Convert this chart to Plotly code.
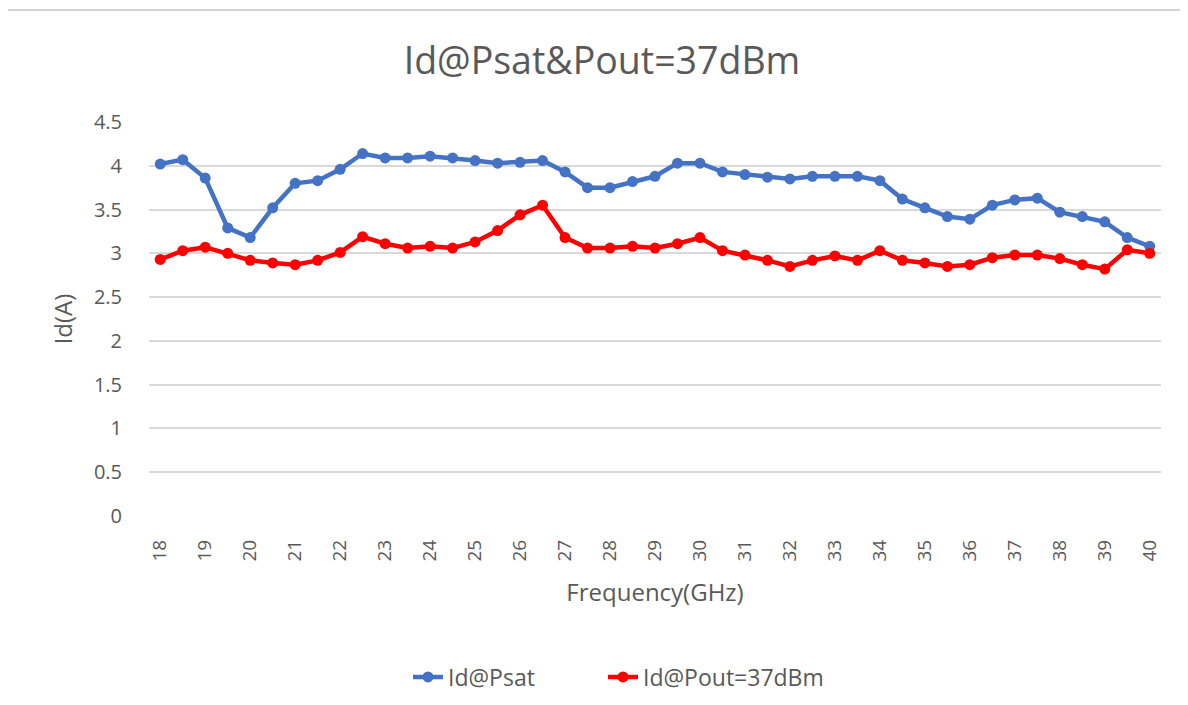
import plotly.graph_objects as go

freq = [18 + 0.5 * i for i in range(45)]
id_psat = [4.02, 4.07, 3.86, 3.29, 3.18, 3.52, 3.80, 3.83, 3.96, 4.14,
           4.09, 4.09, 4.11, 4.09, 4.06, 4.03, 4.04, 4.06, 3.93, 3.75,
           3.75, 3.82, 3.88, 4.03, 4.03, 3.93, 3.90, 3.87, 3.85, 3.88,
           3.88, 3.88, 3.83, 3.62, 3.52, 3.42, 3.39, 3.55, 3.61, 3.63,
           3.47, 3.42, 3.36, 3.18, 3.08]
id_pout = [2.93, 3.03, 3.07, 3.00, 2.92, 2.89, 2.87, 2.92, 3.01, 3.19,
           3.11, 3.06, 3.08, 3.06, 3.13, 3.26, 3.44, 3.55, 3.18, 3.06,
           3.06, 3.08, 3.06, 3.11, 3.18, 3.03, 2.98, 2.92, 2.85, 2.92,
           2.97, 2.92, 3.03, 2.92, 2.89, 2.85, 2.87, 2.95, 2.98, 2.98,
           2.94, 2.87, 2.82, 3.04, 3.00]
tick_vals = list(range(18, 41))
tick_text = [str(v) for v in tick_vals]
y_ticks = [0, 0.5, 1, 1.5, 2, 2.5, 3, 3.5, 4, 4.5]
y_text = ["0", "0.5", "1", "1.5", "2", "2.5", "3", "3.5", "4", "4.5"]

# page has an 8px body margin, so the figure is sized/positioned to compensate
OFF = 8
W, H = 1188 - OFF, 705 - OFF
L, T = 149 - OFF, 122 - OFF
R = W - L - 1012
B = H - T - 394
FONT = "Open Sans"
GREY = "#595959"

fig = go.Figure()
fig.add_trace(go.Scatter(x=freq, y=id_psat, name="Id@Psat", mode="lines+markers",
                         line=dict(color="#4472C4", width=4.5),
                         marker=dict(color="#4472C4", size=11), legend="legend"))
fig.add_trace(go.Scatter(x=freq, y=id_pout, name="Id@Pout=37dBm", mode="lines+markers",
                         line=dict(color="#FF0000", width=4.5),
                         marker=dict(color="#FF0000", size=11), legend="legend2"))

pw = W - L - R
ph = H - T - B
def px(x):
    return (x - OFF - L) / pw
def py(y):
    return (H - B - (y - OFF)) / ph

shapes = [
    dict(type="line", xref="paper", yref="paper", x0=px(0), x1=px(1200), y0=py(10), y1=py(10),
         line=dict(color="#d4d4d4", width=2)),
]

leg_common = dict(orientation="h", xanchor="left", xref="container",
                  y=(705 - 677) / H, yref="container", yanchor="middle",
                  font=dict(size=23, color=GREY, family=FONT))

fig.update_layout(
    width=W, height=H,
    margin=dict(l=L, r=R, t=T, b=B),
    paper_bgcolor="white", plot_bgcolor="white",
    font=dict(family=FONT, color=GREY, size=20),
    title=dict(text="Id@Psat&Pout=37dBm", x=(602 - OFF) / W, xref="container",
               y=1 - (61 - OFF) / H, yref="container",
               xanchor="center", yanchor="middle",
               font=dict(size=37.5, color=GREY, family=FONT)),
    showlegend=True,
    legend=dict(x=(408 - OFF) / W, **leg_common),
    legend2=dict(x=(603 - OFF) / W, **leg_common),
    shapes=shapes,
    xaxis=dict(range=[17.75, 40.25], tickmode="array", tickvals=tick_vals, ticktext=tick_text,
               tickangle=-90, showgrid=False, zeroline=False, showline=False, ticks="",
               ticklabelstandoff=19, tickfont=dict(size=19, color=GREY),
               title=dict(text="Frequency(GHz)", font=dict(size=24, color=GREY), standoff=23)),
    yaxis=dict(range=[0, 4.5], tickmode="array", tickvals=y_ticks, ticktext=y_text,
               showgrid=True, gridcolor="#d9d9d9", gridwidth=1.5, zeroline=False,
               showline=False, ticks="", ticklabelstandoff=26,
               tickfont=dict(size=20, color=GREY),
               title=dict(text="Id(A)", font=dict(size=24, color=GREY), standoff=14)),
)

fig.write_html("out.html")
